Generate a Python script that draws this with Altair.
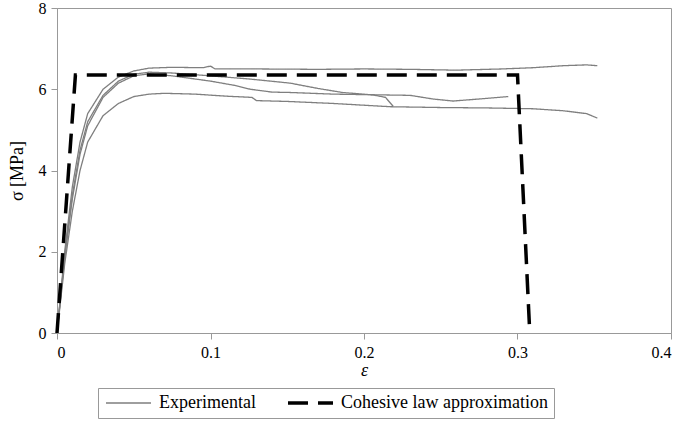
import altair as alt
import pandas as pd

# ---- data ----
top_eps = [0, 0.005, 0.01, 0.015, 0.02, 0.03, 0.04, 0.05, 0.06, 0.075, 0.095, 0.1, 0.103, 0.13, 0.17, 0.2, 0.23, 0.26, 0.29, 0.31, 0.33, 0.345, 0.352]
top_sig = [0, 2.0, 3.6, 4.7, 5.4, 6.0, 6.3, 6.45, 6.52, 6.54, 6.53, 6.57, 6.5, 6.5, 6.49, 6.5, 6.49, 6.47, 6.5, 6.53, 6.58, 6.6, 6.58]

a_eps = [0, 0.005, 0.01, 0.015, 0.02, 0.03, 0.04, 0.05, 0.06, 0.075, 0.1, 0.126, 0.152, 0.17, 0.186, 0.206, 0.214, 0.219]
a_sig = [0, 1.9, 3.4, 4.5, 5.2, 5.85, 6.2, 6.37, 6.42, 6.4, 6.33, 6.25, 6.15, 6.02, 5.92, 5.86, 5.8, 5.58]

b_eps = [0, 0.005, 0.01, 0.015, 0.02, 0.03, 0.04, 0.05, 0.06, 0.075, 0.1, 0.115, 0.126, 0.14, 0.152, 0.18, 0.23, 0.245, 0.258, 0.275, 0.294]
b_sig = [0, 1.85, 3.3, 4.4, 5.1, 5.8, 6.15, 6.33, 6.38, 6.33, 6.2, 6.1, 6.0, 5.93, 5.92, 5.88, 5.85, 5.76, 5.71, 5.76, 5.82]

c_eps = [0, 0.005, 0.01, 0.015, 0.02, 0.03, 0.04, 0.05, 0.06, 0.07, 0.09, 0.11, 0.127, 0.13, 0.15, 0.18, 0.217, 0.25, 0.28, 0.31, 0.33, 0.345, 0.352]
c_sig = [0, 1.7, 3.0, 4.0, 4.7, 5.35, 5.65, 5.82, 5.88, 5.9, 5.88, 5.83, 5.8, 5.72, 5.7, 5.65, 5.57, 5.55, 5.54, 5.52, 5.47, 5.4, 5.29]

law_eps = [0, 0.012, 0.3, 0.308]
law_sig = [0, 6.35, 6.35, 0]

x_ticks = [0, 0.1, 0.2, 0.3, 0.4]
y_ticks = [0, 2, 4, 6, 8]

EXP = "Experimental"
LAW = "Cohesive law approximation"

rows = []
for cid, (xs, ys) in enumerate([(top_eps, top_sig), (a_eps, a_sig), (b_eps, b_sig), (c_eps, c_sig)]):
    for i, (x, y) in enumerate(zip(xs, ys)):
        rows.append({"eps": x, "sig": y, "curve": f"exp{cid}", "type": EXP, "ord": i})
for i, (x, y) in enumerate(zip(law_eps, law_sig)):
    rows.append({"eps": x, "sig": y, "curve": "law", "type": LAW, "ord": i})
df = pd.DataFrame(rows)

FONT = "Liberation Serif, Times New Roman, serif"

legend = alt.Legend(
    title=None, orient="none", legendX=41, legendY=380, direction="horizontal",
    columns=2, symbolType="stroke", symbolSize=2025, clipHeight=18, labelLimit=400,
    labelFont=FONT, labelFontSize=18,
    labelColor="#000", strokeColor="#999", padding=6, columnPadding=30,
    labelOffset=6, fillColor="white",
)

chart = alt.Chart(df).mark_line().encode(
    x=alt.X("eps:Q", scale=alt.Scale(domain=[0, 0.4], nice=False),
            axis=alt.Axis(values=x_ticks, format="~g", title="ε", titleFontStyle="italic",
                          titleFontWeight="normal", titlePadding=1)),
    y=alt.Y("sig:Q", scale=alt.Scale(domain=[0, 8], nice=False),
            axis=alt.Axis(values=y_ticks, format="~g", title="σ [MPa]", titleFontWeight="normal",
                          titlePadding=12)),
    color=alt.Color("type:N", scale=alt.Scale(domain=[EXP, LAW], range=["#7f7f7f", "#000000"]), legend=legend),
    strokeDash=alt.StrokeDash("type:N", scale=alt.Scale(domain=[EXP, LAW], range=[[1, 0], [20, 10]]), legend=legend),
    strokeWidth=alt.StrokeWidth("type:N", scale=alt.Scale(domain=[EXP, LAW], range=[1.3, 3.5]), legend=legend),
    detail="curve:N",
    order="ord:Q",
).properties(
    width=614, height=325,
    autosize=alt.AutoSizeParams(type="none"),
    padding={"left": 57, "top": 8, "right": 10, "bottom": 93},
).configure_view(
    stroke="#999", strokeWidth=1
).configure_axis(
    grid=False, domainColor="#999", tickColor="#999", tickSize=6,
    labelFont=FONT, labelFontSize=16, labelColor="#000",
    titleFont=FONT, titleFontSize=18, titleColor="#000", labelPadding=5,
)

chart.save("out.html", embed_options={"renderer": "svg", "actions": False})
